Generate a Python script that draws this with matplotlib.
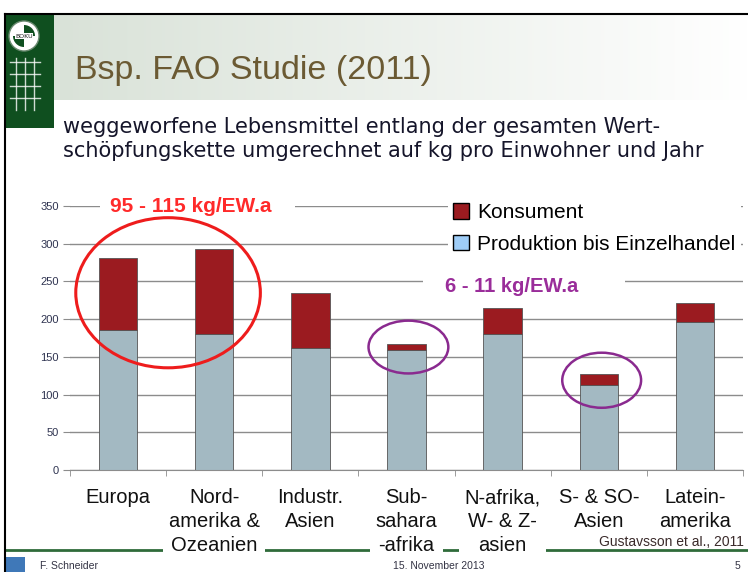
import numpy as np
import matplotlib.pyplot as plt
from matplotlib.patches import Rectangle, Ellipse, Circle, Wedge, Patch

# === Data (kg per capita and year) ===
categories = ["Europa", "Nord-\namerika &\nOzeanien", "Industr.\nAsien", "Sub-\nsahara\n-afrika",
              "N-afrika,\nW- & Z-\nasien", "S- & SO-\nAsien", "Latein-\namerika"]
produktion = [186, 180, 162, 159, 180, 113, 196]
konsument = [95, 113, 73, 8, 35, 14, 25]
yticks = [0, 50, 100, 150, 200, 250, 300, 350]

# === Colors ===
c_kons = "#9b1b20"
c_prod = "#a3b9c2"
c_prod_leg = "#9fcdf7"
c_green = "#0f4f1f"
c_grid = "#8c8c8c"

sans = ["Liberation Sans", "DejaVu Sans"]

fig = plt.figure(figsize=(7.48, 5.72), dpi=100)

# --- slide decoration (pixel coords) ---
ov = fig.add_axes([0, 0, 1, 1], zorder=0)
ov.set_xlim(0, 748)
ov.set_ylim(572, 0)
ov.axis("off")

grad = np.linspace(0, 1, 256).reshape(1, -1)
ov.imshow(grad, extent=(54, 748, 100, 14), aspect="auto",
          cmap=plt.matplotlib.colors.LinearSegmentedColormap.from_list("g", ["#d9e2d8", "#ffffff"]),
          zorder=0)
ov.add_patch(Rectangle((5, 14), 49, 114, fc=c_green, ec="none", zorder=1))
ov.add_patch(Circle((24, 36), 15, fc="white", ec="#6a8a70", lw=1, zorder=2))
ov.add_patch(Wedge((24, 36), 11, 90, 180, fc=c_green, zorder=3))
ov.add_patch(Wedge((24, 36), 11, 270, 360, fc=c_green, zorder=3))
ov.text(24, 36, "BOKU", fontsize=4.5, ha="center", va="center", color="#222222",
        bbox=dict(fc="white", ec="none", pad=0.3), zorder=4)
for yy in [62, 74, 86, 98]:
    ov.plot([10, 40], [yy, yy], color="white", lw=1, alpha=0.8, zorder=2)
for xx in [16, 25, 34]:
    ov.plot([xx, xx], [58, 110], color="white", lw=1, alpha=0.8, zorder=2)
ov.plot([5, 748], [14, 14], color="black", lw=1.5, zorder=5)
ov.plot([5, 5], [14, 572], color="black", lw=1.5, zorder=5)

ov.text(75, 70, "Bsp. FAO Studie (2011)", family=sans, fontsize=24.5, color="#6b5a33",
        ha="left", va="center", zorder=5)
ov.text(63, 139, "weggeworfene Lebensmittel entlang der gesamten Wert-\n"
        "schöpfungskette umgerechnet auf kg pro Einwohner und Jahr",
        family=["DejaVu Sans"], fontsize=15, color="#15152a", ha="left", va="center",
        linespacing=1.3, zorder=5)

# footer
ov.plot([5, 748], [550, 550], color="#2f6b3a", lw=2, zorder=1)
ov.add_patch(Rectangle((6, 557), 19, 15, fc="#3f78b8", ec="none", zorder=2))
ov.text(40, 566, "F. Schneider", family=sans, fontsize=7.5, color="#333344", va="center")
ov.text(393, 566, "15. November 2013", family=sans, fontsize=7.5, color="#333344", va="center")
ov.text(735, 566, "5", family=sans, fontsize=7.5, color="#333344", va="center")
ov.text(744, 542, "Gustavsson et al., 2011", family=sans, fontsize=10, color="#3a2a2a",
        ha="right", va="center", zorder=3)

# --- chart ---
ax = fig.add_axes([70 / 748, (572 - 470) / 572, 673 / 748, 264 / 572], zorder=1)
ax.patch.set_alpha(0)
x = np.arange(len(categories))
ax.bar(x, produktion, width=0.4, color=c_prod, edgecolor="#555555", lw=0.6, zorder=2)
ax.bar(x, konsument, bottom=produktion, width=0.4, color=c_kons, edgecolor="#555555", lw=0.6, zorder=2)

ax.set_xlim(-0.5, len(categories) - 0.5)
ax.set_ylim(0, 350)
ax.set_yticks(yticks)
ax.set_yticklabels([str(v) for v in yticks], family=sans, fontsize=8, color="#2e3350")
ax.yaxis.grid(True, color=c_grid, lw=1.0, zorder=0.5)
ax.set_axisbelow(True)
ax.tick_params(axis="y", length=5, color=c_grid, pad=3)

ax.set_xticks(x)
ax.set_xticklabels(categories, family=sans, fontsize=14.5, color="#111111", linespacing=1.32)
for lab in ax.get_xticklabels():
    lab.set_bbox(dict(fc="white", ec="none", pad=4))
ax.set_xticks(np.arange(-0.5, len(categories)), minor=True)
ax.tick_params(axis="x", which="major", length=0, pad=13)
ax.tick_params(axis="x", which="minor", length=4, color=c_grid, direction="out")

for s in ["top", "right", "left"]:
    ax.spines[s].set_visible(False)
ax.spines["bottom"].set_color(c_grid)

# white gaps in gridlines behind annotations
ax.add_patch(Rectangle((-0.19, 342), 2.03, 16, fc="white", ec="none", zorder=1, clip_on=False))
ax.add_patch(Rectangle((3.17, 238), 2.1, 20, fc="white", ec="none", zorder=1))

ax.text(0.76, 350, "95 - 115 kg/EW.a", family=sans, fontsize=15, fontweight="bold",
        color="#ff2a2a", ha="center", va="center", zorder=3, clip_on=False)
ax.text(4.09, 243, "6 - 11 kg/EW.a", family=sans, fontsize=14.5, fontweight="bold",
        color="#9a2d9a", ha="center", va="center", zorder=3)

ax.add_patch(Ellipse((0.52, 235), 1.92, 199, fill=False, ec="#ee1c1c", lw=2.2, zorder=4, clip_on=False))
ax.add_patch(Ellipse((3.02, 163), 0.83, 70, fill=False, ec="#8a2a8f", lw=1.8, zorder=4))
ax.add_patch(Ellipse((5.03, 119), 0.82, 73, fill=False, ec="#8a2a8f", lw=1.8, zorder=4))

handles = [Patch(fc=c_kons, ec="black", lw=1), Patch(fc=c_prod_leg, ec="black", lw=1)]
leg = ax.legend(handles, ["Konsument", "Produktion bis Einzelhandel"], loc="upper left",
                bbox_to_anchor=(0.562, 1.03), prop={"family": sans, "size": 15},
                frameon=True, fancybox=False, framealpha=1, facecolor="white", edgecolor="none",
                handlelength=0.75, handleheight=0.75, handletextpad=0.4, labelspacing=0.6,
                borderpad=0.25, borderaxespad=0)
leg.set_zorder(5)

plt.savefig("out.png", dpi=100)
